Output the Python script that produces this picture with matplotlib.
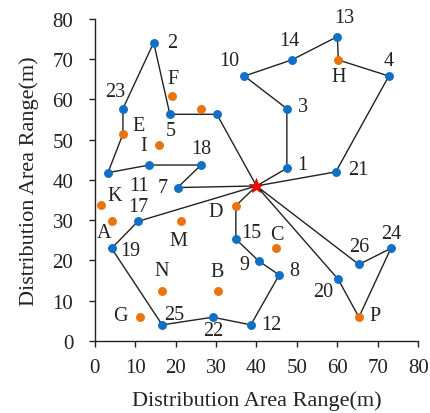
import matplotlib
matplotlib.use("Agg")
import matplotlib.pyplot as plt

plt.rcParams['font.family'] = ['Liberation Serif', 'DejaVu Serif']

# Depot
depot_xy = (40.0, 38.5)

# Customer nodes (blue)
cust_ids = ['1', '2', '3', '4', '5', '6', '7', '8', '9', '10', '11', '12', '13',
            '14', '15', '16', '17', '18', '19', '20', '21', '22', '23', '24', '25', '26']
cust_x = [47.5, 14.6, 47.5, 72.7, 18.6, 30.2, 20.5, 45.6, 40.5, 37.0, 13.5, 38.6, 60.0,
          48.7, 34.9, 3.3, 10.7, 26.3, 4.2, 60.2, 59.6, 29.2, 7.0, 73.2, 16.7, 65.3]
cust_y = [42.9, 74.1, 57.7, 65.8, 56.3, 56.3, 38.1, 16.4, 19.9, 65.8, 43.7, 4.0, 75.6,
          69.8, 25.3, 41.8, 29.7, 43.7, 23.0, 15.3, 42.0, 5.9, 57.7, 23.0, 4.0, 19.0]
cust_labeled = ['1', '2', '3', '4', '5', '7', '8', '9', '10', '11', '12', '13', '14',
                '15', '17', '18', '19', '20', '21', '22', '23', '24', '25', '26']

# Candidate nodes (orange)
cand_ids = ['A', 'B', 'C', 'D', 'E', 'F', 'G', 'H', 'I', 'J', 'K', 'M', 'N', 'P']
cand_x = [4.2, 30.6, 44.8, 34.9, 7.0, 19.0, 11.2, 60.2, 15.8, 26.3, 1.5, 21.3, 16.7, 65.3]
cand_y = [29.7, 12.4, 23.0, 33.6, 51.4, 60.9, 6.0, 69.8, 48.7, 57.7, 33.7, 29.7, 12.4, 5.9]
cand_labeled = ['A', 'B', 'C', 'D', 'E', 'F', 'G', 'H', 'I', 'K', 'M', 'N', 'P']

# Routes (start and end at depot '0')
routes = [
    ['0', '1', '3', '10', '14', '13', 'H', '4', '21', '0'],
    ['0', '6', '5', '2', '23', 'E', '16', '11', '18', '7', '0'],
    ['0', '17', '19', '25', '22', '12', '8', '9', '15', 'D', '0'],
    ['0', '26', '24', 'P', '20', '0'],
]

# label offsets (pixels)
label_offsets = {
    '1': (15.6, 3.3), '2': (18, 0.6), '3': (16.6, 2.6), '4': (0, 16), '5': (1, -16.4),
    '7': (-15, 0), '8': (15, 4.3), '9': (-14, -3.3), '10': (-15, 15.7), '11': (-10, -20),
    '12': (21, 0.7), '13': (6.7, 19), '14': (-2.7, 19), '15': (15.7, 6.7), '17': (0, 14.6),
    '18': (0.7, 16.4), '19': (19, -2.4), '20': (-15, -12.4), '21': (22.6, 2.3),
    '22': (0, -13.4), '23': (-7.7, 17.6), '24': (0, 15), '25': (12, 10.7), '26': (0, 18),
    'A': (-7.7, -11), 'B': (-1.6, 19.3), 'C': (0.7, 14.3), 'D': (-20, -6), 'E': (15.6, 8.7),
    'F': (1.4, 17.4), 'G': (-19.3, 1), 'H': (0.7, -17), 'I': (-15.4, -1), 'K': (14.3, 9.3),
    'M': (-2.4, -18.7), 'N': (-0.7, 20.3), 'P': (16, 1.6),
}

coords = {'0': depot_xy}
for i, x, y in zip(cust_ids, cust_x, cust_y):
    coords[i] = (x, y)
for i, x, y in zip(cand_ids, cand_x, cand_y):
    coords[i] = (x, y)

fig = plt.figure(figsize=(4.30, 4.14), dpi=100)
ax = fig.add_axes([0.22, 0.174, 0.753, 0.778])

blue = '#1170c4'
orange = '#e8730f'

for r in routes:
    xs = [coords[n][0] for n in r]
    ys = [coords[n][1] for n in r]
    ax.plot(xs, ys, color='#222222', lw=1.0, zorder=2)

ax.plot(cust_x, cust_y, 'o', color=blue, ms=5.4, mec=blue, zorder=3, ls='none')
ax.plot(cand_x, cand_y, 'o', color=orange, ms=5.4, mec=orange, zorder=3, ls='none')
ax.plot([depot_xy[0]], [depot_xy[1]], marker='*', color='red', ms=11, mec='#cc0000',
        mew=0.5, zorder=4, ls='none')

for lab in cust_labeled + cand_labeled:
    x, y = coords[lab]
    dx, dy = label_offsets[lab]
    ax.annotate(lab, (x, y), xytext=(dx, dy), textcoords='offset pixels',
                ha='center', va='center', fontsize=14.5, color='#222222', zorder=5)

ax.set_xlim(0, 80)
ax.set_ylim(0, 80)
ax.set_xticks(range(0, 81, 10))
ax.set_yticks(range(0, 81, 10))
for s in ['top', 'right']:
    ax.spines[s].set_visible(False)
for s in ['left', 'bottom']:
    ax.spines[s].set_linewidth(1.0)
    ax.spines[s].set_color('#222222')
ax.tick_params(direction='out', length=4.3, width=1.0, labelsize=15, colors='#222222')
ax.tick_params(axis='x', pad=8)
ax.tick_params(axis='y', pad=11)
ax.set_xlabel('Distribution Area Range(m)', fontsize=16, color='#222222', labelpad=9.5)
ax.set_ylabel('Distribution Area Range(m)', fontsize=16, color='#222222', labelpad=10)
for sp in ax.spines.values():
    sp.set_clip_on(False)

fig.savefig('out.png', dpi=100)
